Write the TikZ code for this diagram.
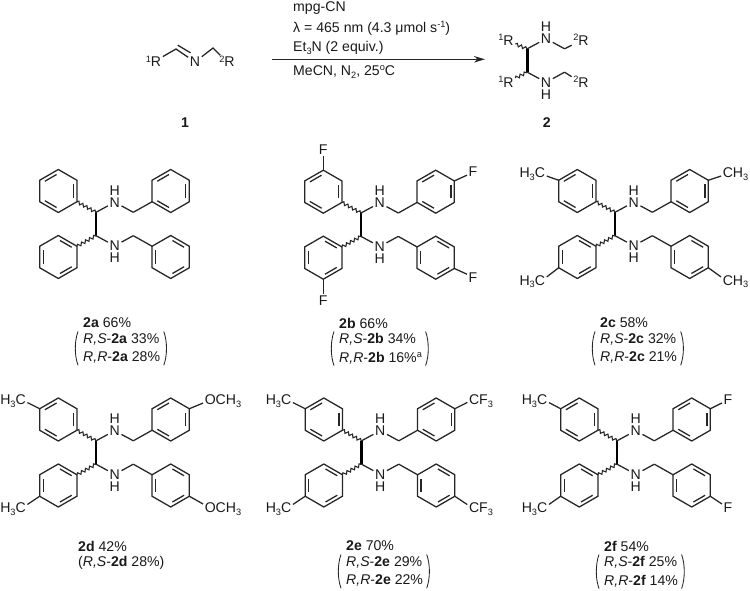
\documentclass[tikz,border=0pt]{standalone}
\usepackage{fontspec}
\setmainfont{Liberation Sans}
\usetikzlibrary{calc,arrows.meta,decorations.pathmorphing}
\def\ringr{21.5pt}
\def\ringi{17.5pt}
\newcommand\up[1]{\raisebox{4.8pt}{\fontsize{9.2}{9}\selectfont #1}}
\newcommand\dn[1]{\raisebox{-2.6pt}{\fontsize{9.2}{9}\selectfont #1}}
\tikzset{
	bond/.style={line width=0.45mm, color=black!85},
	boldbond/.style={line width=1mm, color=black},
	wavebond/.style={line width=0.38mm, color=black!85, decorate, decoration={snake, amplitude=1.5pt, segment length=4.6pt}},
	atom/.style={font=\fontsize{14.1}{14}\selectfont, inner sep=1.5pt, text height=10pt, text depth=0pt, color=black!90},
	lbl/.style={font=\fontsize{14.1}{17}\selectfont, inner sep=0pt, align=left, color=black!90},
	paren/.style={line width=0.3mm, color=black!85},
}
\newcommand\benzene[3]{%
	\coordinate (#1) at #2;
	\foreach \a in {30,90,...,330} \coordinate (#1-\a) at ($(#1)+(\a:\ringr)$);
	\draw[bond] (#1-30) -- (#1-90) -- (#1-150) -- (#1-210) -- (#1-270) -- (#1-330) -- cycle;
	\foreach \a in {#3} \draw[bond, shorten >=2pt, shorten <=2pt] ($(#1)+(\a:\ringi)$) -- ($(#1)+(\a+60:\ringi)$);
}
\newcommand\diamcore[3]{%
	\coordinate (#1) at (#2, #3);
	\coordinate (#1ct) at ($(#1)+(0, -11.7)$);
	\coordinate (#1cb) at ($(#1)+(0, 11.7)$);
	\coordinate (#1mt) at ($(#1)+(37.3, -11.7)$);
	\coordinate (#1mb) at ($(#1)+(37.3, 11.7)$);
	\node[atom] (#1ht) at ($(#1)+(18.7, -33.8)$) {H};
	\node[atom] (#1nt) at ($(#1)+(18.7, -21.8)$) {N};
	\node[atom] (#1hb) at ($(#1)+(18.7, 33.8)$) {H};
	\node[atom] (#1nb) at ($(#1)+(18.7, 21.8)$) {N};
	\draw[boldbond] (#1ct) -- (#1cb);
	\draw[bond] (#1ct) -- (#1nt) -- (#1mt);
	\draw[bond] (#1cb) -- (#1nb) -- (#1mb);
}
\newcommand\diamine[3]{%
	\diamcore{#1}{#2}{#3}
	\benzene{#1a}{($(#1)+(-37.7, -33)$)}{90,210,330}
	\benzene{#1b}{($(#1)+(-37.7, 33)$)}{30,150,270}
	\benzene{#1c}{($(#1)+(74.7, -33)$)}{90,210,330}
	\benzene{#1d}{($(#1)+(74.7, 33)$)}{30,150,270}
	\draw[wavebond] (#1a-330) -- (#1ct);
	\draw[wavebond] (#1b-30) -- (#1cb);
	\draw[bond] (#1mt) -- (#1c-210);
	\draw[bond] (#1mb) -- (#1d-150);
}
\newcommand\sidegroup[7]{%
	\node[atom] (#3) at ($(#1)+(#4, #5)$) {#7};
	\draw[bond] (#2) -- (#3.#6);
}
\newcommand\yields[7]{%
	\node[lbl, anchor=west] (#1t) at (#2, #3) {\textbf{#4} #5};
	\node[lbl, anchor=north west] (#1r) at ($(#2, #3)+(0, 10)$) {\textit{R,S}-\textbf{#4} #6\\[1.7pt]\textit{R,R}-\textbf{#4} #7};
	\draw[paren] ($(#1r.north west)+(-5, -1.5)$) .. controls +(-3.6, 10) and +(-3.6, -10) .. ($(#1r.south west)+(-5, 1.5)$);
	\draw[paren] ($(#1r.north east)+(3.5, -1.5)$) .. controls +(3.6, 10) and +(3.6, -10) .. ($(#1r.south east)+(3.5, 1.5)$);
}

\begin{document}
\begin{tikzpicture}[x=1pt, y=-1pt]
		\useasboundingbox (0, 0) rectangle (750, 591);
		
		%%%%% START %%%%%
		
		\node[atom] (imr) at (153.5, 62) {\up{1}R};
		\coordinate (imc) at (176, 49);
		\coordinate (imd) at (177.8, 45.2);
		\coordinate (ime) at (190.5, 52.8);
		\node[atom] (imn) at (195, 62) {N};
		\coordinate (imm) at (213, 48);
		\node[atom] (imq) at (227, 62) {\up{2}R};
		\draw[bond] (imr) -- (imc) -- (imn) -- (imm) -- (imq);
		\draw[bond] (imd) -- (ime);
		\node[atom, font=\fontsize{14.1}{14}\selectfont\bfseries] (no1) at (185, 123) {1};
		
		\coordinate (arra) at (271.7, 59.3);
		\coordinate (arrb) at (485, 59.3);
		\draw[bond, -{Stealth[length=11pt, width=6.5pt]}] (arra) -- (arrb);
		\node[lbl, anchor=west] (cond1) at (293, 8) {mpg-CN};
		\node[lbl, anchor=west] (cond2) at (293, 28) {λ = 465 nm (4.3 μmol s\up{-1})};
		\node[lbl, anchor=west] (cond3) at (293, 48) {Et\dn{3}N (2 equiv.)};
		\node[lbl, anchor=west] (cond4) at (293, 72) {MeCN, N\dn{2}, 25\up{o}C};
		
		\diamcore{p}{527.3}{60.5}
		\node[atom] (prt) at (506, 40.5) {\up{1}R};
		\node[atom] (prb) at (506, 82.7) {\up{1}R};
		\node[atom] (pqt) at (581, 40.5) {\up{2}R};
		\node[atom] (pqb) at (581, 82.7) {\up{2}R};
		\draw[wavebond] (prt) -- (pct);
		\draw[wavebond] (prb) -- (pcb);
		\draw[bond] (pmt) -- (pqt);
		\draw[bond] (pmb) -- (pqb);
		\node[atom, font=\fontsize{14.1}{14}\selectfont\bfseries] (no2) at (546.7, 123) {2};
		
		%%%%% TOP ROW %%%%%
		
		\diamine{m}{96}{224}
		\yields{ya}{83}{323}{2a}{66\%}{33\%}{28\%}
		
		\diamine{n}{361}{224.7}
		\sidegroup{n}{na-90}{nfa}{-37.7}{-75}{-90}{F}
		\sidegroup{n}{nb-270}{nfb}{-37.7}{75.5}{90}{F}
		\sidegroup{n}{nc-30}{nfc}{112}{-53}{210}{F}
		\sidegroup{n}{nd-330}{nfd}{112}{53}{150}{F}
		\yields{yb}{339}{323}{2b}{66\%}{34\%}{16\%\up{a}}
		
		\diamine{o}{615}{224}
		\sidegroup{o}{oa-150}{ota}{-82.7}{-51}{-12}{H\dn{3}C}
		\sidegroup{o}{ob-210}{otb}{-82.7}{56}{12}{H\dn{3}C}
		\sidegroup{o}{oc-30}{otc}{120.5}{-51}{192}{CH\dn{3}}
		\sidegroup{o}{od-330}{otd}{120.5}{56}{168}{CH\dn{3}}
		\yields{yc}{600}{323}{2c}{58\%}{32\%}{21\%}
		
		%%%%% BOTTOM ROW %%%%%
		
		\diamine{q}{96}{452.5}
		\sidegroup{q}{qa-150}{qta}{-83}{-53}{-12}{H\dn{3}C}
		\sidegroup{q}{qb-210}{qtb}{-83}{55}{12}{H\dn{3}C}
		\sidegroup{q}{qc-30}{qtc}{127}{-53}{190}{OCH\dn{3}}
		\sidegroup{q}{qd-330}{qtd}{127}{55}{170}{OCH\dn{3}}
		\node[lbl, anchor=west] (ydt) at (78, 546) {\textbf{2d} 42\%};
		\node[lbl, anchor=west] (ydr) at (78, 563) {(\textit{R,S}-\textbf{2d} 28\%)};
		
		\diamine{s}{361.5}{452.5}
		\sidegroup{s}{sa-150}{sta}{-83}{-53}{-12}{H\dn{3}C}
		\sidegroup{s}{sb-210}{stb}{-83}{55}{12}{H\dn{3}C}
		\sidegroup{s}{sc-30}{stc}{119.5}{-53}{192}{CF\dn{3}}
		\sidegroup{s}{sd-330}{std}{119.5}{55}{168}{CF\dn{3}}
		\yields{ye}{346}{546}{2e}{70\%}{29\%}{22\%}
		
		\diamine{u}{617}{452.5}
		\sidegroup{u}{ua-150}{uta}{-82.5}{-53}{-12}{H\dn{3}C}
		\sidegroup{u}{ub-210}{utb}{-82.5}{55}{12}{H\dn{3}C}
		\sidegroup{u}{uc-30}{ufc}{111}{-53}{210}{F}
		\sidegroup{u}{ud-330}{ufd}{111}{55}{150}{F}
		\yields{yf}{604}{546}{2f}{54\%}{25\%}{14\%}
		
		%%%%% END %%%%%
	\end{tikzpicture}
\end{document}
